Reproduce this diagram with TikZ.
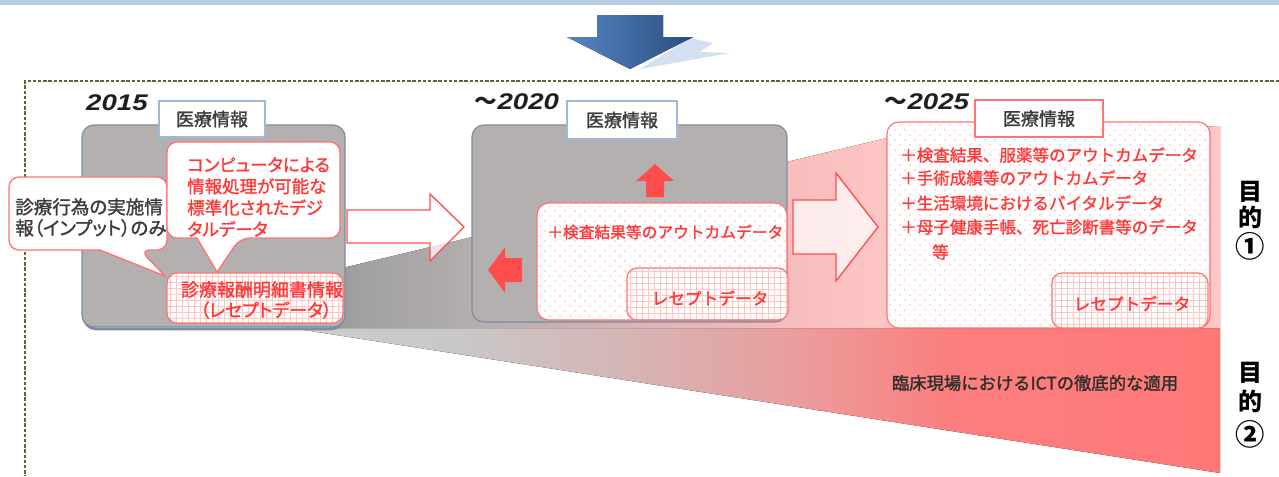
\documentclass[tikz,border=0pt]{standalone}
\usepackage{fontspec}
\setmainfont{Liberation Sans}
\newfontfamily\jp[FakeBold=1.4]{Noto Sans CJK JP}
\newfontfamily\jpp[RawFeature=+palt,FakeBold=1.4]{Noto Sans CJK JP}
\newfontfamily\jpb{Noto Sans CJK JP}
\definecolor{bandblue}{HTML}{B8CCE4}
\definecolor{arrowA}{HTML}{5586C4}
\definecolor{arrowB}{HTML}{2C4E7E}
\definecolor{arrowsh}{HTML}{D2E0F2}
\definecolor{frameg}{HTML}{556B2F}
\definecolor{boxgray}{HTML}{B5B0B0}
\definecolor{boxedge}{HTML}{7E8CA3}
\definecolor{tabedge}{HTML}{9DBBD9}
\definecolor{pinkedge}{HTML}{FF7373}
\definecolor{redtxt}{HTML}{FF3838}
\definecolor{gridc}{HTML}{FFC6C6}
\definecolor{dotc}{HTML}{FFB8B8}
\definecolor{redarrow}{HTML}{FF4D4D}
\definecolor{txtgray}{HTML}{3C3C3C}
\definecolor{uA}{HTML}{9C9C9C}
\definecolor{uB}{HTML}{B4AEAE}
\definecolor{uC}{HTML}{F7BDBD}
\definecolor{uD}{HTML}{FFC6C6}
\definecolor{lA}{HTML}{CDCDCD}
\definecolor{lB}{HTML}{C8C8C8}
\definecolor{lC}{HTML}{D8B2B2}
\definecolor{lD}{HTML}{EC9C9C}
\definecolor{lE}{HTML}{FC7E7E}
\definecolor{lF}{HTML}{FF7878}
\pgfdeclarehorizontalshading{upwedge}{100bp}{color(0bp)=(uA); color(25bp)=(uA); color(32.9bp)=(uB); color(50.8bp)=(uC); color(56.5bp)=(uD); color(75bp)=(uD); color(100bp)=(uD)}
\pgfdeclarehorizontalshading{lowwedge}{100bp}{color(0bp)=(lA); color(25bp)=(lA); color(33.8bp)=(lB); color(44.5bp)=(lC); color(52.5bp)=(lD); color(60.6bp)=(lE); color(75bp)=(lF); color(100bp)=(lF)}
\newcommand\gridfillbox[4]{%
  \begin{scope}
    \clip[rounded corners=7.5pt] (#1,#2) rectangle (#3,#4);
    \fill[white] (#1,#2) rectangle (#3,#4);
    \foreach \g in {0,...,31}{\draw[gridc,line width=0.6pt] ({#1+3+\g*6},#2) -- ({#1+3+\g*6},#4);}
    \foreach \g in {0,...,10}{\draw[gridc,line width=0.6pt] (#1,{#2+3+\g*6}) -- (#3,{#2+3+\g*6});}
  \end{scope}
  \draw[pinkedge,line width=0.9pt,rounded corners=7.5pt] (#1,#2) rectangle (#3,#4);}
\newcommand\dotfillbox[4]{%
  \begin{scope}
    \clip[rounded corners=9pt] (#1,#2) rectangle (#3,#4);
    \fill[white] (#1,#2) rectangle (#3,#4);
    \foreach \r in {0,...,42}{\pgfmathsetmacro\dotoff{mod(\r,2)*5}\foreach \c in {0,...,33}{\fill[dotc] ({#1+3+\c*10+\dotoff},{#2+3+\r*5}) circle (0.7pt);}}
  \end{scope}
  \draw[pinkedge,line width=0.9pt,rounded corners=9pt] (#1,#2) rectangle (#3,#4);}
\tikzset{
  graybox/.style={fill=boxgray,draw=boxedge,line width=0.9pt,rounded corners=9pt},
  tab/.style={draw=tabedge,fill=white,line width=0.9pt,inner sep=0pt,text=txtgray,font=\jp\fontsize{13.5}{16}\selectfont},
  year/.style={inner sep=0pt,text=black!88,font=\fontsize{17}{17}\selectfont\bfseries\itshape},
  callout/.style={fill=white,draw=pinkedge,line width=1pt},
  hollowarrow/.style={fill=white,fill opacity=0.7,draw=redarrow,line width=1pt},
  redtext/.style={inner sep=0pt,text=redtxt},
  purpose/.style={inner sep=0pt,text=black,font=\jpb\bfseries\fontsize{18}{18}\selectfont},
}
\begin{document}
\begin{tikzpicture}[x=0.75pt,y=-0.75pt]
\useasboundingbox (0,0) rectangle (1279,476);
% top band
\fill[bandblue] (0,0) rectangle (1279,4.5);
% blue arrow with its shadow
\fill[arrowsh] (690,38) -- (713,43) -- (700,52) -- (730,53) -- (640,69) -- cycle;
\fill[left color=arrowA,right color=arrowB] (597,15) -- (663,15) -- (663,37) -- (693,37) -- (630,69) -- (567,37) -- (597,37) -- cycle;
% dashed frame
\draw[frameg,line width=1pt,dash pattern=on 2.6pt off 1.3pt] (1279,81) -- (25,81) -- (25,476);
% wedges
\fill[shading=lowwedge] (285,327) -- (1220,327) -- (1220,473) -- cycle;
\fill[shading=upwedge] (330,271) -- (887,138) -- (1220,126) -- (1220,328) -- (330,328) -- cycle;
% hollow arrows
\filldraw[hollowarrow] (347,210) -- (430,210) -- (430,194) -- (464,227) -- (430,261) -- (430,243) -- (347,243) -- cycle;
\filldraw[hollowarrow] (793,200) -- (836,200) -- (836,173) -- (878,227) -- (836,281) -- (836,254) -- (793,254) -- cycle;
% ---- 2015
\draw[boxedge,line width=2pt,rounded corners=9pt] (84,300) -- (84,329) -- (343,329) -- (343,300);
\filldraw[graybox] (82,125) rectangle (345,327);
\node[year] (y15) at (117,103) {\scalebox{1.22}[1]{2015}};
\node[tab,minimum width=79.5pt,minimum height=27pt] (t15) at (212,119) {医療情報};
\filldraw[callout,rounded corners=7.5pt] (9,213) -- (9,177) -- (167,177) -- (167,250) -- (140,250) [sharp corners] -- (165,276) -- (100,250) [rounded corners=7.5pt] -- (9,250) -- cycle;
\node[inner sep=0pt,anchor=west,align=left,text=txtgray,font=\jpp\fontsize{13.9}{15.8}\selectfont] (c1) at (15,217.5) {診療行為の実施情\\報（インプット）のみ};
\filldraw[callout,rounded corners=7.5pt] (167,190) -- (167,142) -- (340,142) -- (340,238) -- (240,238) [sharp corners] -- (217,272) -- (197,238) [rounded corners=7.5pt] -- (167,238) -- cycle;
\node[redtext,anchor=west,align=left,font=\jpp\fontsize{13.1}{16.1}\selectfont] (c2) at (187,197) {コンピュータによる\\情報処理が可能な\\標準化されたデジ\\タルデータ};
\gridfillbox{167}{273}{343}{323}
\node[redtext,font=\jp\fontsize{13.5}{16}\selectfont] (r15a) at (262,289.5) {診療報酬明細書情報};
\node[redtext,font=\jpp\fontsize{13.5}{16}\selectfont] (r15b) at (266,310) {（レセプトデータ）};
% ---- 2020
\filldraw[graybox] (472,125) rectangle (787,322);
\node[year] (y20) at (517,102) {{\jpb\bfseries ～}\scalebox{1.22}[1]{2020}};
\node[tab,minimum width=82.5pt,minimum height=28.5pt] (t20) at (622,120) {医療情報};
\fill[redarrow] (646,197) -- (646,181) -- (636,181) -- (655,164) -- (674,181) -- (664,181) -- (664,197) -- cycle;
\fill[redarrow] (488,270) -- (505,247) -- (505,258) -- (522,258) -- (522,282) -- (505,282) -- (505,293) -- cycle;
\dotfillbox{537}{203}{787}{320}
\node[redtext,anchor=west,font=\jp\fontsize{11.8}{14}\selectfont] (o20) at (547,232) {＋検査結果等のアウトカムデータ};
\gridfillbox{627}{268}{788}{320}
\node[redtext,font=\jp\fontsize{12.5}{15}\selectfont] (r20) at (710,298) {レセプトデータ};
% ---- 2025
\node[year] (y25) at (927,102) {{\jpb\bfseries ～}\scalebox{1.22}[1]{2025}};
\dotfillbox{887}{122}{1210}{328}
\node[tab,draw=pinkedge,minimum width=96pt,minimum height=27.75pt] (t25) at (1039,118.5) {医療情報};
\begin{scope}[every node/.style={redtext,anchor=west,font=\jp\fontsize{12.4}{14}\selectfont}]
\node (l1) at (900,155) {＋検査結果、服薬等のアウトカムデータ};
\node (l2) at (900,178) {＋手術成績等のアウトカムデータ};
\node (l3) at (900,203) {＋生活環境におけるバイタルデータ};
\node (l4) at (900,227) {＋母子健康手帳、死亡診断書等のデータ};
\node (l5) at (932,252) {等};
\end{scope}
\gridfillbox{1052}{273}{1208}{328}
\node[redtext,font=\jp\fontsize{12.5}{15}\selectfont] (r25) at (1132,303.5) {レセプトデータ};
% ---- bottom label
\node[inner sep=0pt,text=black!82,font=\jp\fontsize{13}{15}\selectfont] (ict) at (1035,383) {臨床現場におけるICTの徹底的な適用};
% ---- purposes
\node[purpose] (p1a) at (1250,192) {目};
\node[purpose] (p1b) at (1250,217) {的};
\node[purpose,font=\jpb\bfseries\fontsize{22}{22}\selectfont] (p1c) at (1250,246) {①};
\node[purpose] (p2a) at (1250,373) {目};
\node[purpose] (p2b) at (1250,401) {的};
\node[purpose,font=\jpb\bfseries\fontsize{22}{22}\selectfont] (p2c) at (1250,434) {②};
\end{tikzpicture}
\end{document}
